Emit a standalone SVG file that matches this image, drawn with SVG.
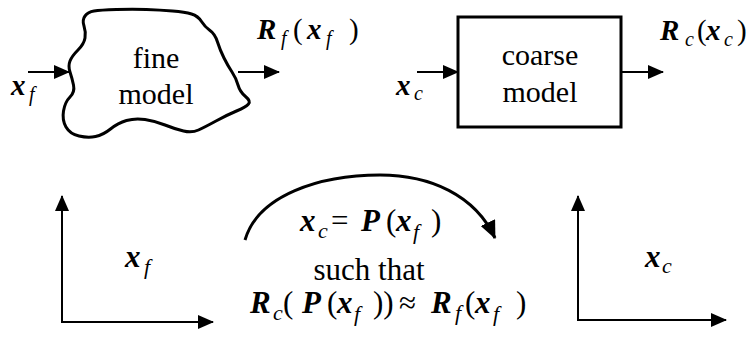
<svg xmlns="http://www.w3.org/2000/svg" width="747" height="338" viewBox="0 0 747 338">
<style>
text{font-family:"Liberation Serif","Times New Roman",Tinos,"Nimbus Roman",FreeSerif,"Noto Serif","DejaVu Serif",serif;fill:#000}
.bi{font-weight:bold;font-style:italic}
.it{font-style:italic}
.lbl{font-size:30px}
.m1{font-size:29px}
.s1{font-size:20px}
.m2{font-size:31px}
.s2{font-size:22px}
.ln{fill:none;stroke:#000;stroke-width:2}
.shape{fill:none;stroke:#000;stroke-width:3}
</style>
<defs>
<marker id="ah" markerUnits="userSpaceOnUse" markerWidth="16" markerHeight="14" viewBox="0 0 16 14" refX="15" refY="7" orient="auto">
<path d="M0,0 L16,7 L0,14 z" fill="#000"/>
</marker>
<marker id="ahb" markerUnits="userSpaceOnUse" markerWidth="18" markerHeight="16" viewBox="0 0 18 16" refX="17" refY="8" orient="auto">
<path d="M0,0 L18,8 L0,16 z" fill="#000"/>
</marker>
</defs>
<g id="connectors">
<line class="ln" x1="28" y1="72" x2="69" y2="72" marker-end="url(#ah)"/>
<line class="ln" x1="238" y1="72" x2="279" y2="72" marker-end="url(#ah)"/>
<line class="ln" x1="417" y1="72" x2="458" y2="72" marker-end="url(#ah)"/>
<line class="ln" x1="622" y1="72" x2="663" y2="72" marker-end="url(#ah)"/>
<path class="ln" d="M245,240 C258,195 320,175 380,175 C430,175 475,195 495,238" style="stroke-width:3" marker-end="url(#ahb)"/>
</g>
<g id="fine-model">
<path class="shape" d="M84,26 Q82,20 85,16 Q88,12 94,11 Q100,10 116.5,9.5 Q133,9 146.5,9.5 Q160,10 172.5,11 Q185,12 191.5,14 Q198,16 201.5,21.5 Q205,27 210,30.5 Q215,34 217.5,42 Q220,50 224,58 Q228,66 232,72 Q236,78 238,85 Q240,92 245.5,96.5 Q251,101 248.5,104 Q246,107 236.5,111 Q227,115 216,121 Q205,127 198.5,130 Q192,133 183.5,131 Q175,129 165,125 Q155,121 145,119.5 Q135,118 126.5,120.5 Q118,123 110.5,129 Q103,135 95.5,136.5 Q88,138 79,136 Q70,134 66,127 Q62,120 63.5,111 Q65,102 70,97 Q75,92 73.5,85 Q72,78 70,72 Q68,66 70,61 Q72,56 78,50 Q84,44 85,38 Q86,32 84,26 Z"/>
<text class="lbl" x="156" y="68" text-anchor="middle">fine</text>
<text class="lbl" x="156" y="104" text-anchor="middle">model</text>
</g>
<g id="coarse-model">
<rect class="shape" x="458" y="17" width="163" height="110"/>
<text class="lbl" x="540" y="65" text-anchor="middle">coarse</text>
<text class="lbl" x="540" y="102" text-anchor="middle">model</text>
</g>
<g id="label-xf-in">
<text class="bi m1" x="11" y="95">x</text><text class="it s1" x="29" y="101">f</text>
</g>
<g id="label-Rf-out">
<text class="bi m1" x="257" y="39">R</text><text class="it s1" x="281" y="45">f</text>
<text class="m1" x="293" y="39">(</text><text class="bi m1" x="307" y="39">x</text><text class="it s1" x="326" y="45">f</text><text class="m1" x="349" y="39">)</text>
</g>
<g id="label-xc-in">
<text class="bi m1" x="396" y="95">x</text><text class="it s1" x="414" y="100">c</text>
</g>
<g id="label-Rc-out">
<text class="bi m1" x="660" y="40">R</text><text class="it s1" x="685" y="46">c</text>
<text class="m1" x="697" y="40">(</text><text class="bi m1" x="706" y="40">x</text><text class="it s1" x="724" y="46">c</text><text class="m1" x="737" y="40">)</text>
</g>
<g id="axes-fine">
<line class="ln" x1="62" y1="323" x2="62" y2="196" marker-end="url(#ah)"/>
<line class="ln" x1="61" y1="322" x2="213" y2="322" marker-end="url(#ah)"/>
<text class="bi m2" x="125" y="267">x</text><text class="it s2" x="144" y="274">f</text>
</g>
<g id="axes-coarse">
<line class="ln" x1="578" y1="321" x2="578" y2="196" marker-end="url(#ah)"/>
<line class="ln" x1="577" y1="320" x2="726" y2="320" marker-end="url(#ah)"/>
<text class="bi m2" x="645" y="267">x</text><text class="it s2" x="662" y="273">c</text>
</g>
<g id="mapping">
<text class="bi m2" x="300" y="231">x</text><text class="it s2" x="318" y="238">c</text>
<text class="m2" x="331" y="231">=</text>
<text class="bi m2" x="361" y="231">P</text><text class="m2" x="386" y="231">(</text><text class="bi m2" x="396" y="231">x</text><text class="it s2" x="413" y="239">f</text><text class="m2" x="431" y="231">)</text>
<text class="m2" x="369" y="280" text-anchor="middle">such that</text>
<text class="bi m2" x="250" y="313">R</text><text class="it s2" x="273" y="320">c</text>
<text class="m2" x="283" y="313">(</text>
<text class="bi m2" x="302" y="313">P</text><text class="m2" x="327" y="313">(</text><text class="bi m2" x="337" y="313">x</text><text class="it s2" x="354" y="321">f</text><text class="m2" x="373" y="313">))</text>
<text class="m2" x="399" y="313">≈</text>
<text class="bi m2" x="431" y="313">R</text><text class="it s2" x="455" y="320">f</text>
<text class="m2" x="465" y="313">(</text><text class="bi m2" x="475" y="313">x</text><text class="it s2" x="493" y="321">f</text><text class="m2" x="516" y="313">)</text>
</g>
</svg>
